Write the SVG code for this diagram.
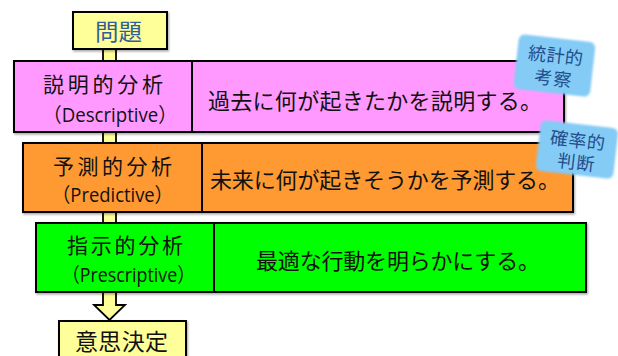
<svg xmlns="http://www.w3.org/2000/svg" width="618" height="356" viewBox="0 0 618 356">
<defs>
<style>
.box{stroke:#000;stroke-width:2}
.conn{fill:#FFFF99;stroke:#000;stroke-width:1.8}
.t{font-family:"Noto Sans CJK JP","Noto Sans",sans-serif;fill:#111}
.en{font-family:"Open Sans","Noto Sans CJK JP",sans-serif;fill:#111;font-size:20px}
.tag{fill:#84CBF6}
.tt{font-family:"Noto Sans CJK JP","Noto Sans",sans-serif;fill:#1F4E8C;font-size:18px}
</style>
<filter id="soft" x="-20%" y="-20%" width="140%" height="140%"><feGaussianBlur stdDeviation="1"/></filter>
<filter id="sh" x="-5%" y="-5%" width="110%" height="120%"><feDropShadow dx="1" dy="1.5" stdDeviation="0.8" flood-color="#000" flood-opacity="0.35"/></filter>
</defs>
<g id="connectors">
<rect class="conn" x="103" y="48" width="13" height="14"/>
<rect class="conn" x="103" y="131" width="13" height="13"/>
<rect class="conn" x="103" y="211" width="13" height="13"/>
<path class="conn" d="M103 291 L116 291 L116 305 L125 305 L109.5 320 L94 305 L103 305 Z"/>
</g>
<g id="mondai">
<rect class="box" x="73" y="12" width="94" height="37" fill="#FFFF99" filter="url(#sh)"/>
<text class="t" x="95" y="40" font-size="23" textLength="47" lengthAdjust="spacingAndGlyphs" style="fill:#2F5E98">問題</text>
</g>
<g id="descriptive">
<rect class="box" x="14" y="61" width="550" height="71" fill="#FF99FF" filter="url(#sh)"/>
<line class="box" x1="192" y1="61" x2="192" y2="132"/>
<text class="t" x="43" y="92" font-size="21" textLength="120" lengthAdjust="spacing">説明的分析</text>
<text class="en" x="43" y="122" textLength="134" lengthAdjust="spacingAndGlyphs">（Descriptive）</text>
<text class="t" x="208" y="109" font-size="22" textLength="334" lengthAdjust="spacing">過去に何が起きたかを説明する。</text>
</g>
<g id="predictive">
<rect class="box" x="23" y="143" width="550" height="69" fill="#FF9933" filter="url(#sh)"/>
<line class="box" x1="202" y1="143" x2="202" y2="212"/>
<text class="t" x="53" y="174" font-size="21" textLength="119" lengthAdjust="spacing">予測的分析</text>
<text class="en" x="52" y="202" textLength="121" lengthAdjust="spacingAndGlyphs">（Predictive）</text>
<text class="t" x="210" y="188" font-size="22" textLength="350" lengthAdjust="spacing">未来に何が起きそうかを予測する。</text>
</g>
<g id="prescriptive">
<rect class="box" x="36" y="223" width="550" height="69" fill="#00FF00" filter="url(#sh)"/>
<line class="box" x1="214" y1="223" x2="214" y2="292"/>
<text class="t" x="67" y="253" font-size="21" textLength="116" lengthAdjust="spacing">指示的分析</text>
<text class="en" x="62" y="282" textLength="133" lengthAdjust="spacingAndGlyphs">（Prescriptive）</text>
<text class="t" x="256" y="269" font-size="22" textLength="284" lengthAdjust="spacing">最適な行動を明らかにする。</text>
</g>
<g id="ishikettei">
<rect class="box" x="59" y="321" width="127" height="40" fill="#FFFF99" filter="url(#sh)"/>
<text class="t" x="75" y="350" font-size="23" textLength="93" lengthAdjust="spacing">意思決定</text>
</g>
<g id="tag-toukei" transform="rotate(6.5 554 65)">
<rect class="tag" x="516" y="38" width="77" height="55" rx="6" filter="url(#soft)"/>
<text class="tt" x="527" y="62" textLength="55" lengthAdjust="spacing">統計的</text>
<text class="tt" x="536" y="85" textLength="37" lengthAdjust="spacing">考察</text>
</g>
<g id="tag-kakuritsu" transform="rotate(6.5 577 149)">
<rect class="tag" x="538" y="124" width="78" height="51" rx="6" filter="url(#soft)"/>
<text class="tt" x="549" y="147" textLength="55" lengthAdjust="spacing">確率的</text>
<text class="tt" x="559" y="169" textLength="37" lengthAdjust="spacing">判断</text>
</g>
</svg>
